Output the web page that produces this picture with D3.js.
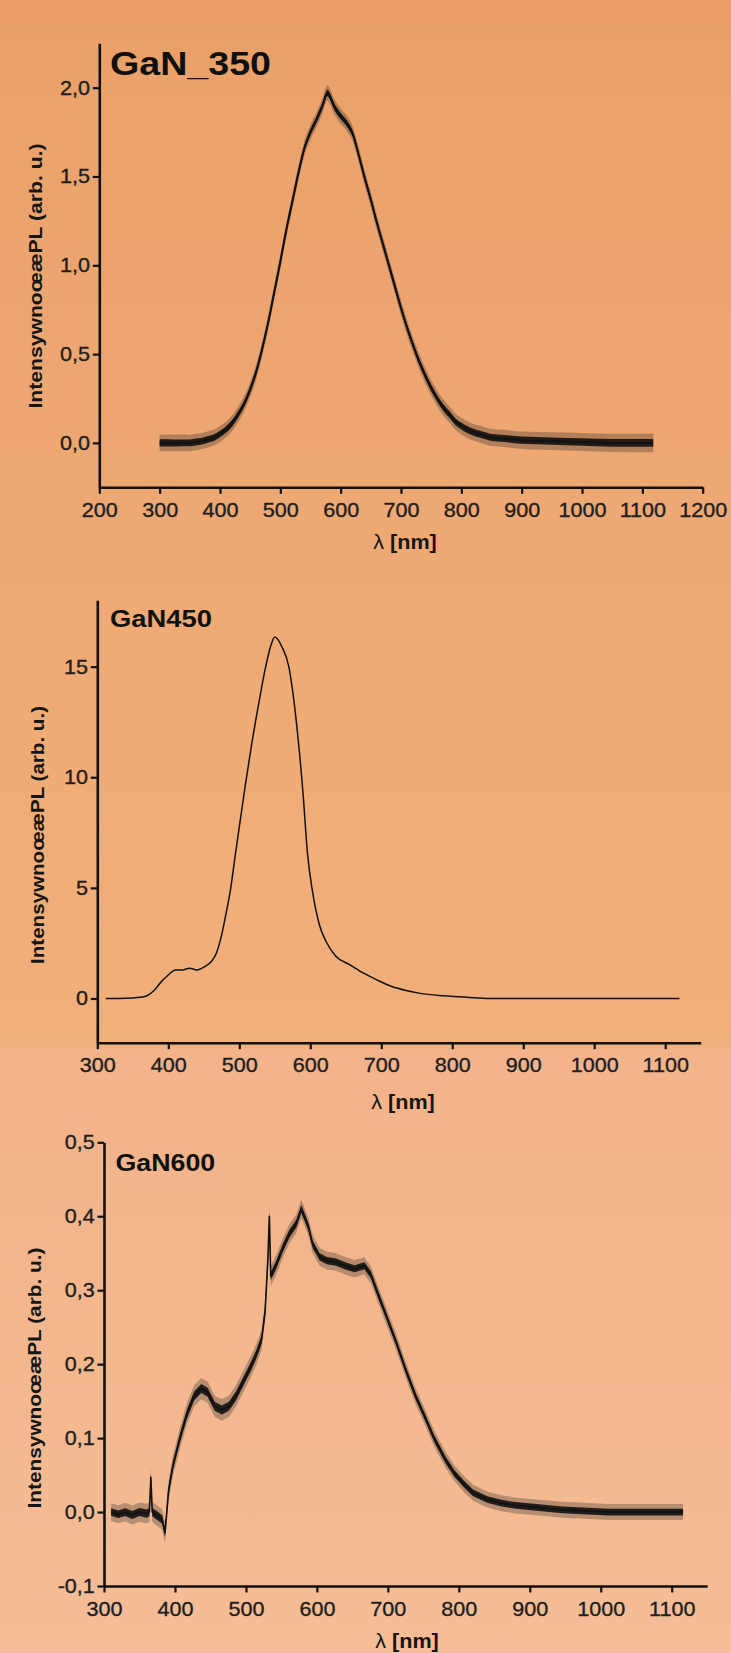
<!DOCTYPE html>
<html><head><meta charset="utf-8">
<script src="https://cdn.jsdelivr.net/npm/d3@7"></script>
<style>html,body{margin:0;padding:0;overflow:hidden;background:#F0AA75}</style>
</head><body>
<svg id="c" width="731" height="1653"></svg>
<script>
// ---------- DATA ----------
// GaN_350
const gan350Wl = [300,310,320,330,340,350,360,370,380,390,400,410,420,430,440,450,460,470,480,490,500,510,520,530,540,550,560,570,578,590,600,610,620,630,640,650,660,670,680,690,700,710,720,730,740,750,760,770,780,790,800,810,820,830,840,850,870,900,950,1000,1050,1118];
const gan350I  = [0,0,0,0,0,0,0.005,0.01,0.02,0.03,0.05,0.075,0.11,0.16,0.22,0.30,0.40,0.53,0.68,0.85,1.02,1.20,1.36,1.52,1.66,1.75,1.82,1.90,1.97,1.89,1.84,1.80,1.74,1.62,1.49,1.37,1.24,1.12,1.00,0.88,0.76,0.65,0.55,0.46,0.38,0.31,0.25,0.20,0.16,0.12,0.095,0.075,0.06,0.05,0.04,0.03,0.025,0.015,0.01,0.005,0,0];
const gan350NoiseWl  = [300,450,560,700,850,1118];
const gan350NoiseAmp = [0.02,0.018,0.018,0.018,0.02,0.022];

// GaN450
const gan450Wl = [312,330,350,360,370,380,390,400,410,420,430,440,452,461,468,475,481,488,494,501,508,517,527,537,544,550,560,570,576,583,590,596,603,613,623,636,656,676,695,715,735,755,788,821,854,900,1000,1120];
const gan450I  = [0,0,0.02,0.05,0.12,0.36,0.75,1.06,1.29,1.29,1.37,1.29,1.45,1.68,2.07,2.85,3.78,5.0,6.4,7.97,9.53,11.4,13.26,14.97,15.9,16.34,15.9,14.97,13.7,11.7,9.2,6.58,4.87,3.31,2.53,1.91,1.52,1.13,0.82,0.54,0.36,0.23,0.12,0.05,0,0,0,0];

// GaN600
const gan600Wl = [310,320,330,340,350,360,364,366,368,375,382,386,391,397,407,417,427,437,446,456,466,476,486,496,506,515,522,527,531,533,535,542,552,561,571,578,588,594,604,614,627,640,653,667,676,686,699,712,726,739,752,765,781,794,807,820,840,860,880,913,946,1011,1116];
const gan600I  = [0,-0.003,0,-0.004,0,-0.002,0,0.047,0,-0.005,-0.01,-0.028,0.029,0.062,0.10,0.133,0.157,0.167,0.162,0.143,0.138,0.143,0.157,0.176,0.195,0.214,0.233,0.271,0.343,0.40,0.319,0.333,0.357,0.376,0.39,0.41,0.386,0.362,0.345,0.34,0.338,0.333,0.329,0.333,0.321,0.295,0.262,0.229,0.19,0.157,0.129,0.10,0.071,0.052,0.038,0.026,0.017,0.012,0.009,0.006,0.003,0,0];
const gan600NoiseWl  = [310,400,500,600,800,1116];
const gan600NoiseAmp = [0.005,0.006,0.006,0.005,0.0045,0.0045];

// tick values / labels
const xTicks350 = [200,300,400,500,600,700,800,900,1000,1100,1200];
const xMinor350 = [250,350,450,550,650,750,850,950,1050,1150];
const yTicks350 = [0,0.5,1.0,1.5,2.0];
const yMinor350 = [-0.25,0.25,0.75,1.25,1.75,2.25];

const xTicks450 = [300,400,500,600,700,800,900,1000,1100];
const xMinor450 = [350,450,550,650,750,850,950,1050,1150];
const yTicks450 = [0,5,10,15];
const yMinor450 = [2.5,7.5,12.5,17.5];

const xTicks600 = [300,400,500,600,700,800,900,1000,1100];
const xMinor600 = [350,450,550,650,750,850,950,1050,1150];
const yTicks600 = [-0.1,0,0.1,0.2,0.3,0.4,0.5];
const yMinor600 = [-0.05,0.05,0.15,0.25,0.35,0.45];

const titles = ["GaN_350","GaN450","GaN600"];
const yLabel = "IntensywnoœæPL (arb. u.)";

// ---------- DRAWING ----------
const svg = d3.select("#c");
const defs = svg.append("defs");
const grad = defs.append("linearGradient").attr("id","bg").attr("x1",0).attr("y1",0).attr("x2",0).attr("y2",1);
[[0,"#E99F67"],[0.06,"#EBA26B"],[0.3,"#EEA873"],[0.5,"#F0AD78"],[0.633,"#F1AF7B"],[0.635,"#F3B38B"],[0.74,"#F3B58B"],[0.9,"#F4BA92"],[1,"#F5BE98"]]
  .forEach(s=>grad.append("stop").attr("offset",s[0]).attr("stop-color",s[1]));
svg.append("rect").attr("width",731).attr("height",1653).attr("fill","url(#bg)");

const FONT = "'Liberation Sans', Arial, sans-serif";
const AX = "#111";

function panel(o){
  const g = svg.append("g");
  const x = d3.scaleLinear().domain(o.xDom).range(o.xRange);
  const y = d3.scaleLinear().domain(o.yDom).range(o.yRange);
  const data = o.wl.map((w,i)=>({wl:w, v:o.I[i]}));

  // noise band (visual width of the noisy trace)
  if (o.nWl){
    const amp = d3.scaleLinear().domain(o.nWl).range(o.nAmp);
    const band = (k)=>d3.area().x(d=>x(d.wl)).y0(d=>y(d.v-amp(d.wl)*k)).y1(d=>y(d.v+amp(d.wl)*k)).curve(o.curve);
    g.append("path").datum(data).attr("d",band(2.4)).attr("fill","#1a1a1a").attr("opacity",0.28);
    g.append("path").datum(data).attr("d",band(1)).attr("fill","#111").attr("opacity",0.9);
  }
  g.append("path").datum(data)
    .attr("d", d3.line().x(d=>x(d.wl)).y(d=>y(d.v)).curve(o.curve))
    .attr("fill","none").attr("stroke","#111").attr("stroke-width",o.lw).attr("stroke-linejoin","round");

  // axes
  const fmtX = d=>String(d);
  const xb = g.append("g").attr("transform",`translate(0,${o.yRange[0]})`);
  xb.call(d3.axisBottom(x).tickValues(o.xMinor).tickSize(3.5).tickSizeOuter(0).tickFormat(""));
  xb.call(d3.axisBottom(x).tickValues(o.xTicks).tickSize(6.5).tickSizeOuter(0).tickPadding(9).tickFormat(fmtX));
  const yl = g.append("g").attr("transform",`translate(${o.xRange[0]},0)`);
  yl.call(d3.axisLeft(y).tickValues(o.yMinor).tickSize(3.5).tickSizeOuter(0).tickFormat(""));
  yl.call(d3.axisLeft(y).tickValues(o.yTicks).tickSize(6.5).tickSizeOuter(0).tickPadding(2).tickFormat(o.fmtY));
  [xb,yl].forEach(a=>{
    a.selectAll("path.domain").attr("stroke",AX).attr("stroke-width",2.6);
    a.selectAll("line").attr("stroke",AX).attr("stroke-width",2.2);
    a.selectAll("text").attr("fill","#1e1e1e").attr("stroke","#1e1e1e").attr("stroke-width",0.35)
      .style("font-family",FONT).style("font-size","20px");
  });
  xb.selectAll("text").attr("transform","scale(1.08,1)");
  yl.selectAll("text").attr("transform","scale(1.08,1)");

  // title
  g.append("text").attr("transform",`translate(${o.tx},${o.ty}) scale(1.14,1)`)
    .text(o.title).attr("fill","#101010").style("font-family",FONT).style("font-weight","bold").style("font-size",o.tfs+"px");

  // x label
  const xt = g.append("text").attr("transform",`translate(${o.lx},${o.ly}) scale(1.08,1)`)
    .attr("text-anchor","middle").attr("fill","#151515").style("font-family",FONT).style("font-size","20px");
  xt.append("tspan").text("λ ");
  xt.append("tspan").text("[nm]").style("font-weight","bold");

  // y label
  g.append("text").attr("transform",`translate(${o.yx},${o.yy}) rotate(-90)`)
    .attr("text-anchor","middle").attr("fill","#151515")
    .attr("textLength",o.yLen).attr("lengthAdjust","spacingAndGlyphs")
    .style("font-family",FONT).style("font-weight","bold").style("font-size","19px")
    .text(yLabel);
}

const fmtComma = d=>d.toFixed(1).replace(".",",");

panel({wl:gan350Wl, I:gan350I, nWl:gan350NoiseWl, nAmp:gan350NoiseAmp, curve:d3.curveMonotoneX, lw:2,
  xDom:[200,1200], xRange:[99.3,702.7], yDom:[-0.25,2.25], yRange:[487.3,43.3],
  xTicks:xTicks350, xMinor:xMinor350, yTicks:yTicks350, yMinor:yMinor350, fmtY:fmtComma,
  title:titles[0], tx:110, ty:75, tfs:33, lx:405, ly:549, yx:42, yy:276, yLen:265});

panel({wl:gan450Wl, I:gan450I, curve:d3.curveMonotoneX, lw:1.5,
  xDom:[300,1150], xRange:[97.3,700.7], yDom:[-2,18], yRange:[1042.7,600.3],
  xTicks:xTicks450, xMinor:xMinor450, yTicks:yTicks450, yMinor:yMinor450, fmtY:d=>String(d),
  title:titles[1], tx:110, ty:626.5, tfs:24, lx:403, ly:1109, yx:44, yy:835, yLen:258});

panel({wl:gan600Wl, I:gan600I, nWl:gan600NoiseWl, nAmp:gan600NoiseAmp, curve:d3.curveLinear, lw:1.6,
  xDom:[300,1150], xRange:[104,707.2], yDom:[-0.1,0.5], yRange:[1586,1142.3],
  xTicks:xTicks600, xMinor:xMinor600, yTicks:yTicks600, yMinor:yMinor600, fmtY:fmtComma,
  title:titles[2], tx:115.5, ty:1171, tfs:23.5, lx:407, ly:1648, yx:41, yy:1378, yLen:261});
</script>
</body></html>
